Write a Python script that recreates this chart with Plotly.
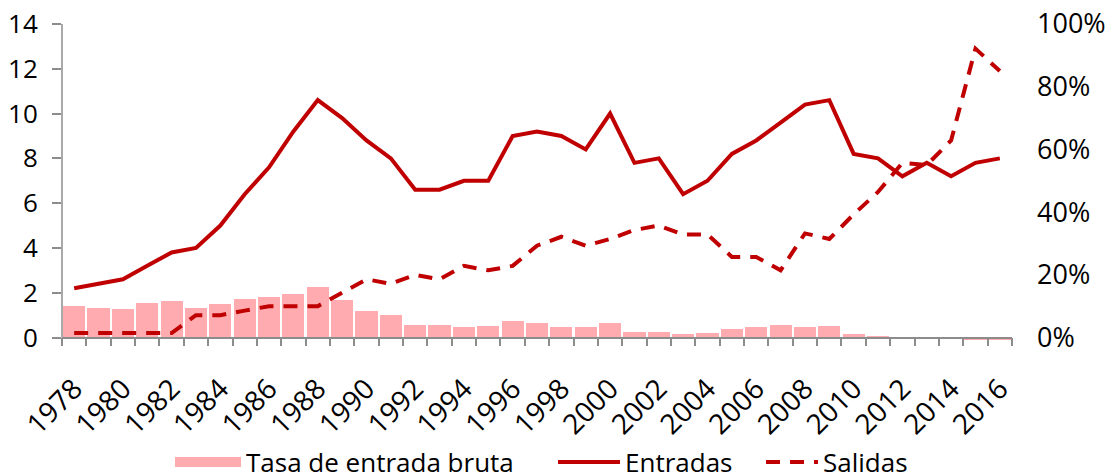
import plotly.graph_objects as go

years = list(range(1978, 2017))

entradas = [2.2, 2.4, 2.6, 3.2, 3.8, 4.0, 5.0, 6.4, 7.6, 9.2, 10.6, 9.8, 8.8, 8.0,
            6.6, 6.6, 7.0, 7.0, 9.0, 9.2, 9.0, 8.4, 10.0, 7.8, 8.0, 6.4, 7.0, 8.2,
            8.8, 9.6, 10.4, 10.6, 8.2, 8.0, 7.2, 7.8, 7.2, 7.8, 8.0]

salidas = [0.2, 0.2, 0.2, 0.2, 0.2, 1.0, 1.0, 1.2, 1.4, 1.4, 1.4, 2.0, 2.6, 2.4,
           2.8, 2.6, 3.2, 3.0, 3.2, 4.1, 4.5, 4.1, 4.4, 4.8, 5.0, 4.6, 4.6, 3.6,
           3.6, 3.0, 4.65, 4.4, 5.5, 6.5, 7.8, 7.7, 8.8, 12.9, 11.9]

tasa_pct = [10.0, 9.4, 9.1, 11.0, 11.5, 9.3, 10.7, 12.3, 13.0, 14.0, 16.0, 12.0, 8.6, 7.2,
            4.0, 3.9, 3.5, 3.8, 5.2, 4.5, 3.5, 3.5, 4.5, 1.9, 1.9, 1.1, 1.5, 2.8,
            3.2, 4.0, 3.5, 3.8, 1.2, 0.5, 0.0, 0.0, -0.6, -0.7, -0.7]

left_ticks = [0, 2, 4, 6, 8, 10, 12, 14]
right_ticks = [0, 20, 40, 60, 80, 100]
x_labels = list(range(1978, 2017, 2))

RED = "#C00000"
PINK = "#FFABB0"
GRAY = "#8C8C8C"
FONT = "Open Sans"

# the page body adds an 8px margin around the figure
W, H = 1106, 467

neg = 0.2
left_range = [-neg, 14]
right_range = [-neg / 14 * 100, 100]

fig = go.Figure()

fig.add_trace(go.Bar(x=years, y=tasa_pct, marker=dict(color=PINK, line=dict(width=0)),
                     width=0.91, yaxis="y", showlegend=False, name="Tasa de entrada bruta"))
fig.add_trace(go.Scatter(x=[None], y=[None], mode="lines", yaxis="y", legend="legend",
                         line=dict(color=PINK, width=13), name="Tasa de entrada bruta"))
fig.add_trace(go.Scatter(x=years, y=entradas, mode="lines", yaxis="y2", legend="legend2",
                         line=dict(color=RED, width=4), name="Entradas"))
fig.add_trace(go.Scatter(x=years, y=salidas, mode="lines", yaxis="y2", legend="legend3",
                         line=dict(color=RED, width=4, dash="14px,10px"), name="Salidas"))


def leg(px, itemwidth):
    return dict(orientation="h", x=(px - 8) / W, xanchor="left", xref="container",
                yref="container", y=(H - 454) / H, yanchor="middle",
                itemwidth=itemwidth, font=dict(size=26), bgcolor="rgba(0,0,0,0)")


fig.update_layout(
    width=W, height=H,
    margin=dict(l=54, r=102, t=16, b=133, autoexpand=False),
    paper_bgcolor="white", plot_bgcolor="white",
    font=dict(family=FONT, size=26, color="black"),
    bargap=0,
    xaxis=dict(
        range=[1977.5, 2016.5], anchor="free", position=neg / 14.2, automargin=False,
        showline=True, linecolor=GRAY, linewidth=1.5, showgrid=False, zeroline=False,
        tickmode="array", tickvals=x_labels, ticktext=[str(v) for v in x_labels],
        tickangle=-45, ticks="outside", ticklen=8, tickcolor="rgba(0,0,0,0)",
        ticklabelstandoff=15, ticklabeloverflow="allow",
        minor=dict(tick0=1977.5, dtick=1, ticks="outside", ticklen=8, tickcolor=GRAY,
                   tickwidth=1.5, showgrid=False),
        tickfont=dict(size=28),
    ),
    yaxis=dict(
        side="right", range=right_range, tickmode="array", tickvals=right_ticks,
        ticktext=[f"{v}%" for v in right_ticks], showgrid=False, zeroline=False,
        showline=False, ticks="", ticklabelstandoff=24, automargin=False,
        ticklabeloverflow="allow", tickfont=dict(size=27),
    ),
    yaxis2=dict(
        overlaying="y", side="left", range=left_range, tickmode="array",
        tickvals=left_ticks, showgrid=False, zeroline=False, showline=False,
        ticks="outside", ticklen=9, tickcolor=GRAY, tickwidth=1.5, ticklabelstandoff=9,
        automargin=False, ticklabeloverflow="allow", tickfont=dict(size=26),
    ),
    legend=leg(170, 66),
    legend2=leg(553, 62),
    legend3=leg(761, 52),
    shapes=[dict(type="line", xref="paper", x0=0, x1=0, yref="y2", y0=0, y1=14,
                 line=dict(color=GRAY, width=1.5))],
)

fig.write_html("out.html")
